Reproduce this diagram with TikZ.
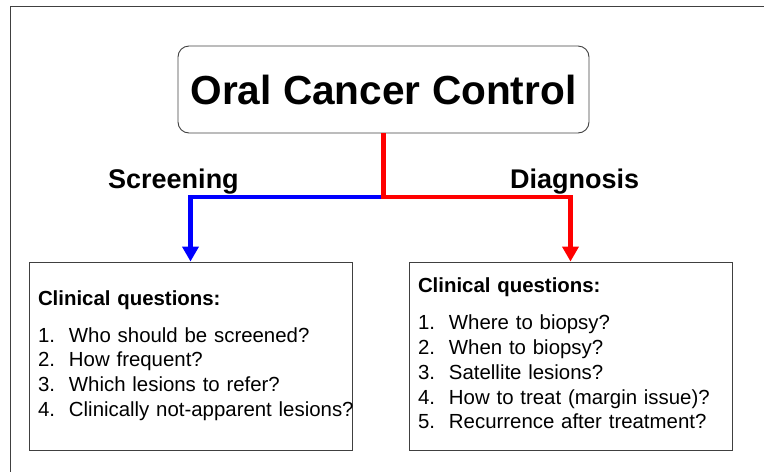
\documentclass[tikz,border=0pt]{standalone}
\usepackage{fontspec}
\setmainfont{Liberation Sans}
\usetikzlibrary{arrows.meta}

\begin{document}
\begin{tikzpicture}[x=1pt, y=-1pt,
    topbox/.style={rectangle, draw=black!75, line width=0.9pt, rounded corners=11pt, minimum width=411pt, minimum height=87pt, font=\fontsize{40.6}{48}\selectfont\bfseries},
    qbox/.style={rectangle, draw=black!75, line width=0.9pt, minimum width=323pt, minimum height=188pt, text width=305pt, inner xsep=9pt, align=left, font=\fontsize{20.4}{24.8}\selectfont},
    branch/.style={anchor=base west, inner sep=0pt, font=\fontsize{27}{32}\selectfont\bfseries},
    link/.style={line width=4.5pt, -{Triangle[width=16pt, length=15pt]}}
]
    \useasboundingbox (0,0) rectangle (764,472);
    % frame
    \draw[black!75, line width=0.9pt] (764,6) -- (10,6) -- (10,472);

    % top
    \node[topbox] (occ) at (383.5, 89.5) {Oral Cancer Control};
    \coordinate (split) at (383.5, 197);

    % branches
    \node[branch] (scr_lab) at (108, 188) {Screening};
    \node[branch] (dia_lab) at (510, 188) {Diagnosis};

    % question boxes
    \node[qbox] (scr) at (190.5, 356) {\begin{tabular}{@{}p{31pt}@{}l@{}}
        \multicolumn{2}{@{}l@{}}{\bfseries Clinical questions:}\\[12pt]
        1. & Who should be screened?\\
        2. & How frequent?\\
        3. & Which lesions to refer?\\
        4. & Clinically not-apparent lesions?
    \end{tabular}};
    \node[qbox] (dia) at (570.5, 356) {\begin{tabular}{@{}p{31pt}@{}l@{}}
        \multicolumn{2}{@{}l@{}}{\bfseries Clinical questions:}\\[12pt]
        1. & Where to biopsy?\\
        2. & When to biopsy?\\
        3. & Satellite lesions?\\
        4. & How to treat (margin issue)?\\
        5. & Recurrence after treatment?
    \end{tabular}};

    \draw[link, blue] (split) -| (scr.north);
    \draw[link, red] (occ.south) -- (split) -| (dia.north);
\end{tikzpicture}
\end{document}
